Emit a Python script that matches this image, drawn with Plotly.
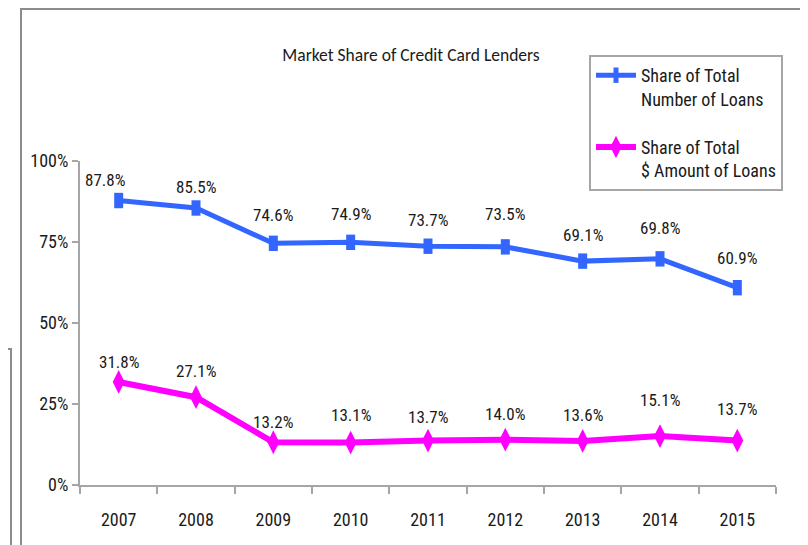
import plotly.graph_objects as go

years = ["2007", "2008", "2009", "2010", "2011", "2012", "2013", "2014", "2015"]
share_number = [87.8, 85.5, 74.6, 74.9, 73.7, 73.5, 69.1, 69.8, 60.9]
share_amount = [31.8, 27.1, 13.2, 13.1, 13.7, 14.0, 13.6, 15.1, 13.7]
y_ticks = [0, 25, 50, 75, 100]
y_tick_labels = ["0%", "25%", "50%", "75%", "100%"]

# label offsets (pixels above point) to mimic reference placement
blue_dy = [21, 21, 28, 28, 26, 33, 26, 31, 30]
blue_dx = [-14, 0, 0, 0, 0, 0, 0, 0, 0]
pink_dy = [20, 26, 20, 28, 24, 26, 26, 36, 32]

BLUE = "#3366FF"
PINK = "#FF00FF"
GREY = "#A6A6A6"
FRAME = "#8C8C8C"
TXT = "#1a1a1a"
FONT = "Roboto Condensed, Liberation Sans Narrow, DejaVu Sans Condensed, sans-serif"
TFONT = "Carlito, Roboto Condensed, sans-serif"

# the page body adds an 8px margin; work in screen pixels and subtract it
OFF = 8
W, H = 808 - OFF, 545 - OFF
L, R, T, B = 80, 776, 161, 485  # plot area in screen pixels


def px(x):
    return (x - L) / (R - L)


def py(y):
    return (B - y) / (B - T)


fig = go.Figure()
fig.add_trace(go.Scatter(
    x=years, y=share_number, mode="lines+markers",
    name="Share of Total<br>Number of Loans", legendgroup="a",
    line=dict(color=BLUE, width=5),
    marker=dict(symbol="line-ns", size=11, color=BLUE, line=dict(color=BLUE, width=9)),
))
fig.add_trace(go.Scatter(
    x=years, y=share_amount, mode="lines+markers",
    name="Share of Total<br>$ Amount of Loans", legendgroup="b",
    line=dict(color=PINK, width=6),
    marker=dict(symbol="diamond-tall", size=17, color=PINK),
))

annotations = []
for i in range(len(years)):
    annotations.append(dict(x=i, y=share_number[i], xref="x", yref="y",
                            text=f"{share_number[i]:.1f}%", showarrow=False,
                            yshift=blue_dy[i], xshift=blue_dx[i],
                            font=dict(family=FONT, size=17, color=TXT)))
    annotations.append(dict(x=i, y=share_amount[i], xref="x", yref="y",
                            text=f"{share_amount[i]:.1f}%", showarrow=False,
                            yshift=pink_dy[i],
                            font=dict(family=FONT, size=17, color=TXT)))

shapes = [
    # outer chart frame
    dict(type="rect", xref="paper", yref="paper",
         x0=px(21), x1=px(801), y0=py(9), y1=py(570),
         line=dict(color=FRAME, width=2)),
    # left-edge remnants of neighbouring frames
    dict(type="path", xref="paper", yref="paper",
         path=f"M {px(-5)},{py(326)} L {px(4)},{py(326)} L {px(4)},{py(-5)}",
         line=dict(color=FRAME, width=2)),
    dict(type="path", xref="paper", yref="paper",
         path=f"M {px(-5)},{py(349)} L {px(11)},{py(349)} L {px(11)},{py(570)}",
         line=dict(color=FRAME, width=2)),
]

fig.update_layout(
    width=W, height=H,
    margin=dict(l=L - OFF, r=W - (R - OFF), t=T - OFF, b=H - (B - OFF)),
    paper_bgcolor="white", plot_bgcolor="white",
    font=dict(family=FONT, size=17, color=TXT),
    title=dict(text="Market Share of Credit Card Lenders",
               x=(411 - OFF) / W, xanchor="center",
               y=1 - (55 - OFF) / H, yanchor="middle",
               font=dict(family=TFONT, size=17.5, color=TXT)),
    showlegend=True,
    legend=dict(x=px(589), y=py(55), xanchor="left", yanchor="top",
                bordercolor=GREY, borderwidth=2, bgcolor="white",
                font=dict(family=FONT, size=18, color=TXT),
                valign="top", tracegroupgap=22, itemwidth=40),
    annotations=annotations,
    shapes=shapes,
)
fig.update_xaxes(type="category", range=[-0.5, 8.5], showline=True, linecolor=GREY, linewidth=2,
                 ticks="outside", tickson="boundaries", ticklen=7, tickcolor=GREY, tickwidth=2,
                 showgrid=False, zeroline=False, ticklabelstandoff=17,
                 tickfont=dict(family=FONT, size=18, color=TXT))
fig.update_yaxes(range=[0, 100], tickvals=y_ticks, ticktext=y_tick_labels,
                 showline=True, linecolor=GREY, linewidth=2,
                 ticks="outside", ticklen=6, tickcolor=GREY, tickwidth=2,
                 showgrid=False, zeroline=False, ticklabelstandoff=0,
                 tickfont=dict(family=FONT, size=18, color=TXT))

fig.write_html("out.html")
